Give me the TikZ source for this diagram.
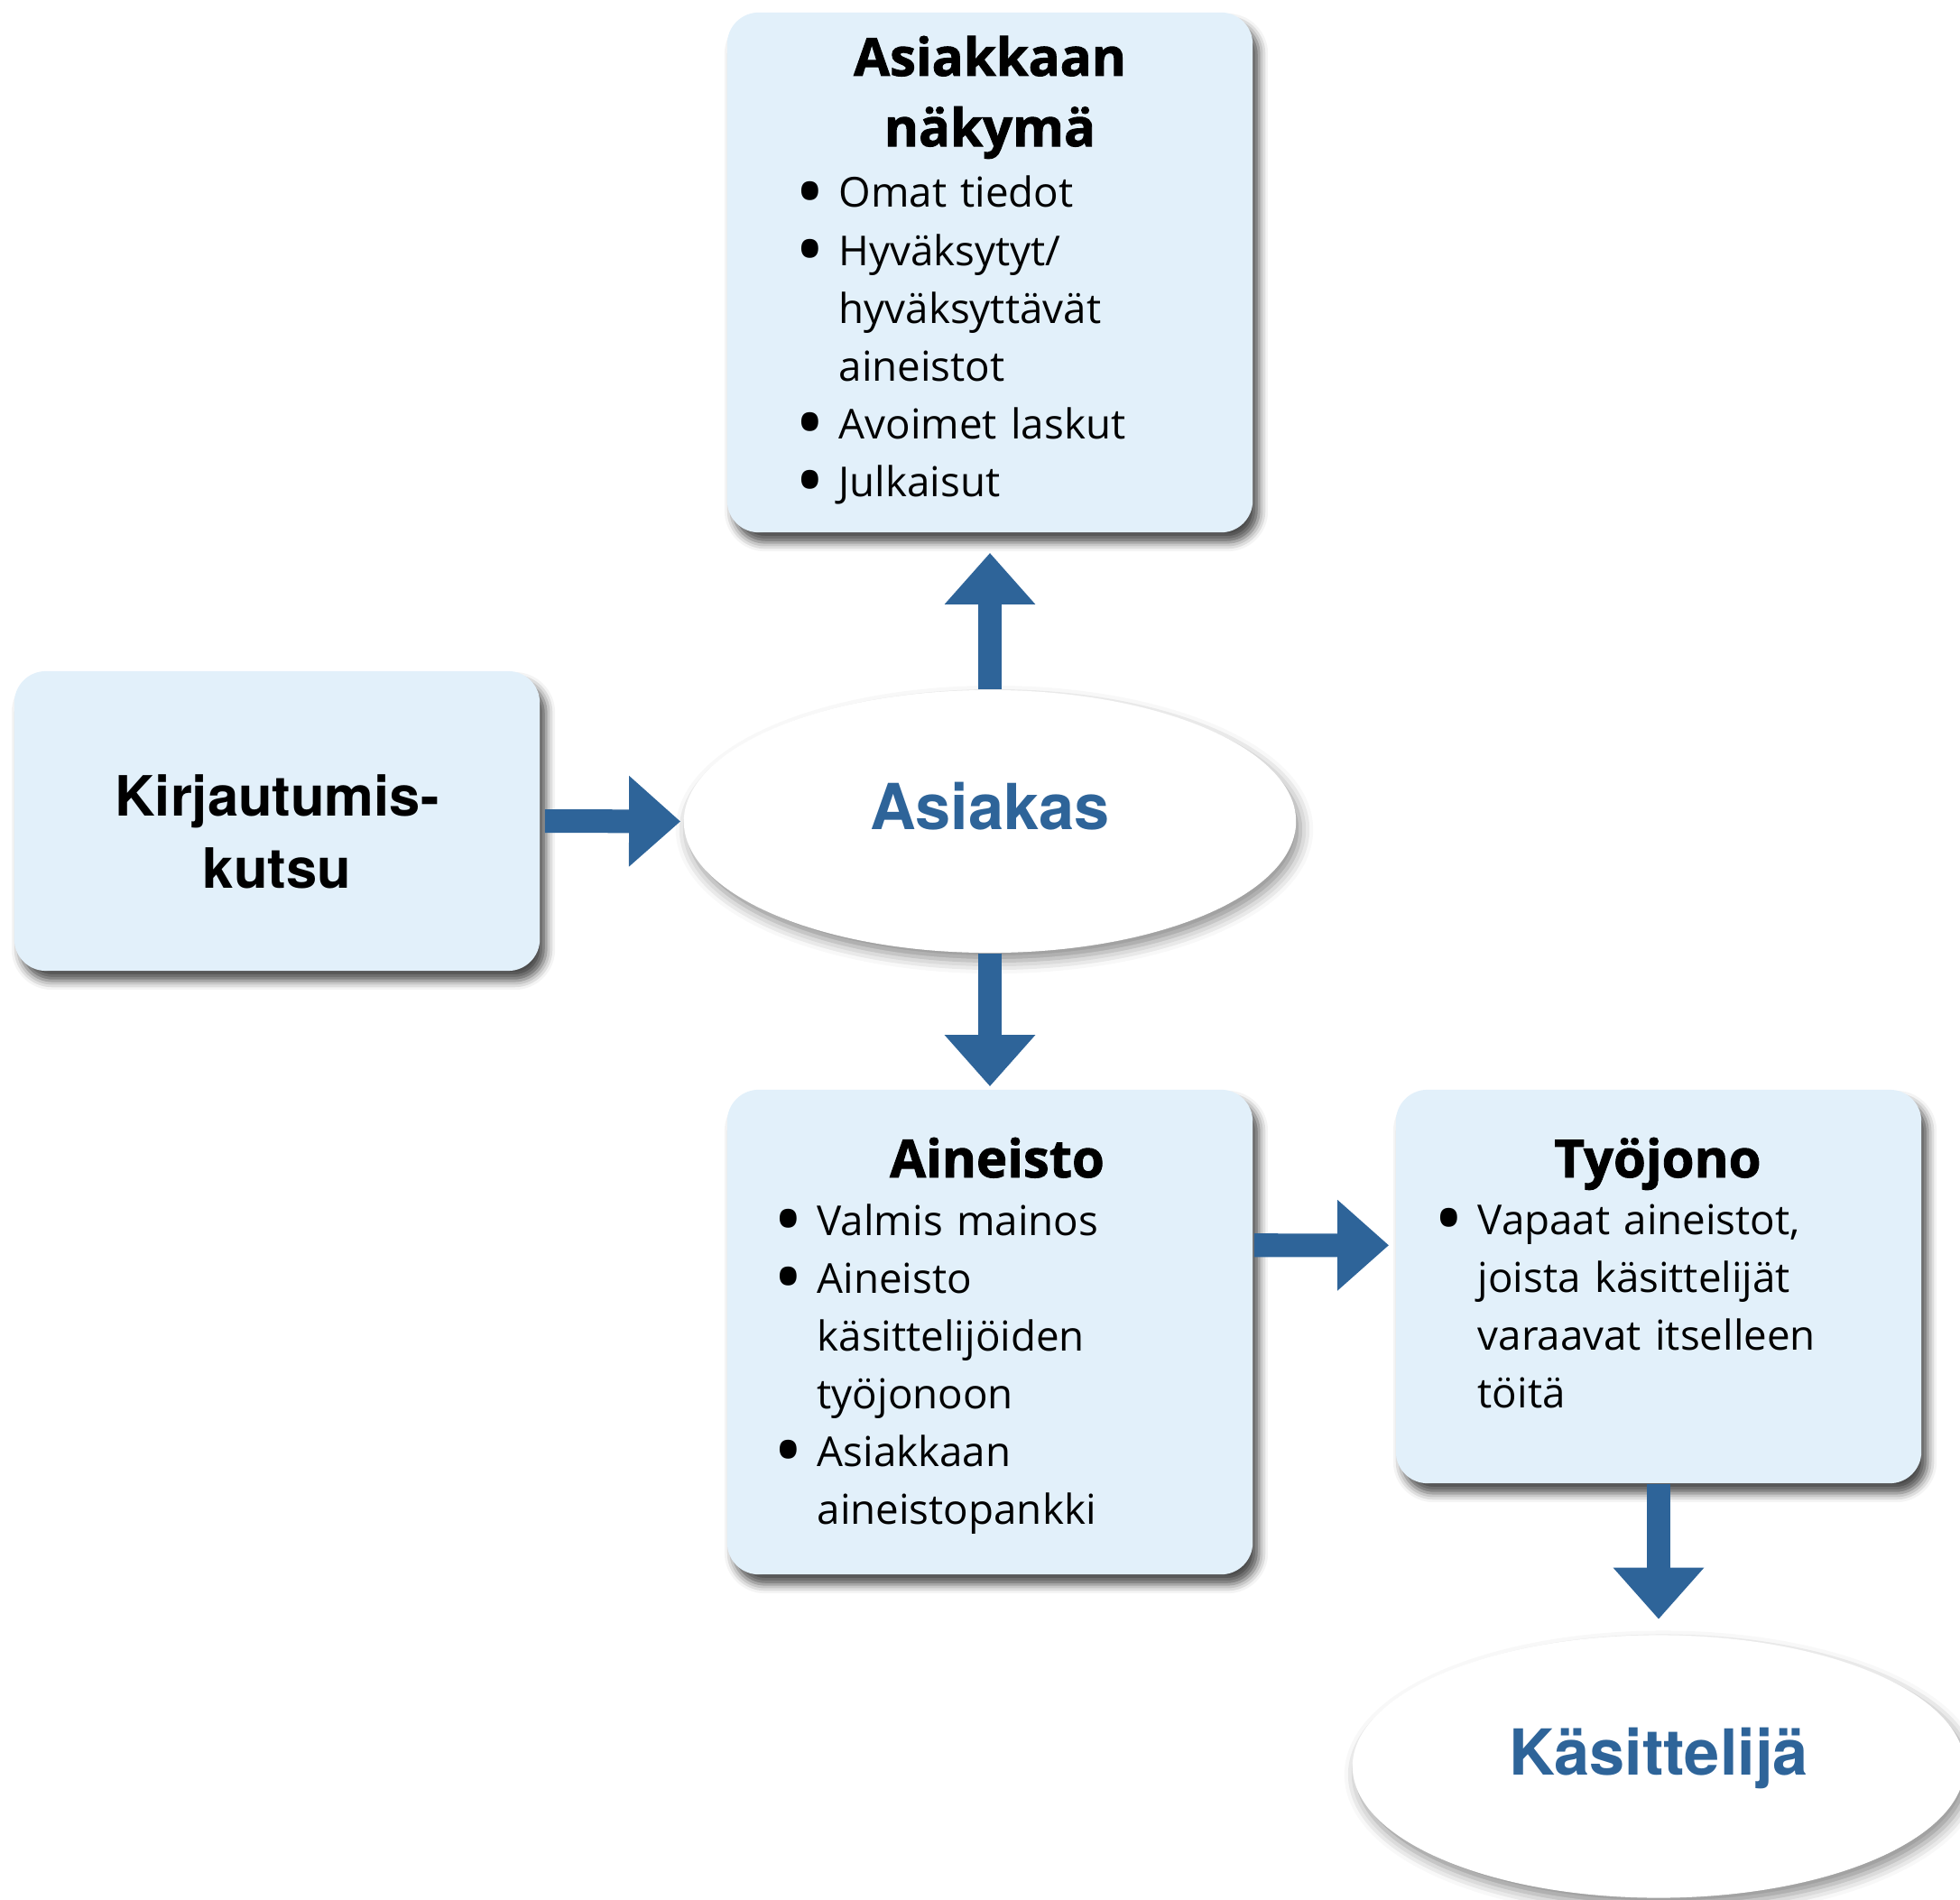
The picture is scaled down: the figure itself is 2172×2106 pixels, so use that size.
\documentclass[tikz,border=0pt]{standalone}
\usepackage{fontspec}
\usepackage{graphicx}
\setmainfont{Open Sans}[BoldFeatures={FakeBold=1.6}]
\newfontfamily\headfont{TeX Gyre Heros}
\usetikzlibrary{shapes.geometric,arrows.meta,shadows.blur}
\definecolor{boxblue}{HTML}{E2F0FA}
\definecolor{arrowblue}{HTML}{2E6499}
\newcommand{\bul}{\leavevmode\llap{\makebox[0.64cm]{\smash{\raisebox{-3.9pt}{\scalebox{1.9}{\textbullet}}}}}}

\begin{document}
\begin{tikzpicture}[x=0.01cm,y=-0.01cm,
	box/.style={fill=boxblue,rounded corners=0.35cm,minimum width=5.82cm,
		blur shadow={shadow xshift=0.07cm,shadow yshift=-0.11cm,shadow blur radius=0.1cm,shadow opacity=70}},
	oval/.style={ellipse,fill=white,minimum width=6.78cm,minimum height=2.91cm,inner sep=0pt,
		blur shadow={shadow xshift=0.05cm,shadow yshift=-0.09cm,shadow blur radius=0.14cm,shadow opacity=45},
		text=arrowblue,font=\headfont\bfseries\fontsize{20}{24}\selectfont,text height=0.5cm,text depth=0.32cm},
	flow/.style={draw=arrowblue,line width=0.26cm,-{Triangle[width=0.97cm,length=0.57cm]}},
	heading/.style={font=\bfseries\fontsize{16.5}{22.2}\selectfont,text width=5.5cm,align=center,anchor=base,inner sep=0pt},
	loginhead/.style={font=\headfont\bfseries\fontsize{17.5}{23}\selectfont,text width=5.5cm,align=center,anchor=base,inner sep=0pt},
	bullets/.style={font=\fontsize{13}{18.2}\selectfont,text width=4.6cm,align=left,anchor=base west,inner sep=0pt}]
	\useasboundingbox (0,0) rectangle (2172,2106);
	% boxes and ovals
	\node[box,minimum height=5.76cm] (naky) at (1097,302) {};
	\node[box,minimum height=3.32cm] (kirj) at (307,910) {};
	\node[box,minimum height=5.37cm] (ain) at (1097,1476.5) {};
	\node[box,minimum height=4.36cm] (tyo) at (1838,1426) {};
	\node[oval] (asiakas) at (1097,910.5) {Asiakas};
	\node[oval] (kasit) at (1838,1958) {Käsittelijä};
	% texts
	\node[heading] (nakyhead) at (1097,84) {Asiakkaan\\näkymä};
	\node[bullets] (nakylist) at (929,230) {\bul Omat tiedot\\ \bul Hyväksytyt/\\ hyväksyttävät\\ aineistot\\ \bul Avoimet laskut\\ \bul Julkaisut};
	\node[loginhead] (kirjhead) at (307,904) {Kirjautumis-\\kutsu};
	\node[heading] (ainhead) at (1105,1305) {Aineisto};
	\node[bullets] (ainlist) at (905,1369) {\bul Valmis mainos\\ \bul Aineisto\\ käsittelijöiden\\ työjonoon\\ \bul Asiakkaan\\ aineistopankki};
	\node[heading] (tyohead) at (1837,1305) {Työjono};
	\node[bullets] (tyolist) at (1637,1368) {\bul Vapaat aineistot,\\ joista käsittelijät\\ varaavat itselleen\\ töitä};
	% arrows
	\draw[flow,shorten <=0.05cm,shorten >=0.03cm] (kirj.east) -- (asiakas.west);
	\draw[flow,shorten >=0.22cm] (asiakas.north) -- (naky.south);
	\draw[flow,shorten >=0.03cm] (asiakas.south) -- (ain.north);
	\draw[flow,shorten <=0.01cm,shorten >=0.07cm] ([yshift=-1.73cm]ain.north east) -- ([yshift=-1.73cm]tyo.north west);
	\draw[flow,shorten >=0.17cm] (tyo.south) -- (kasit.north);
\end{tikzpicture}
\end{document}
